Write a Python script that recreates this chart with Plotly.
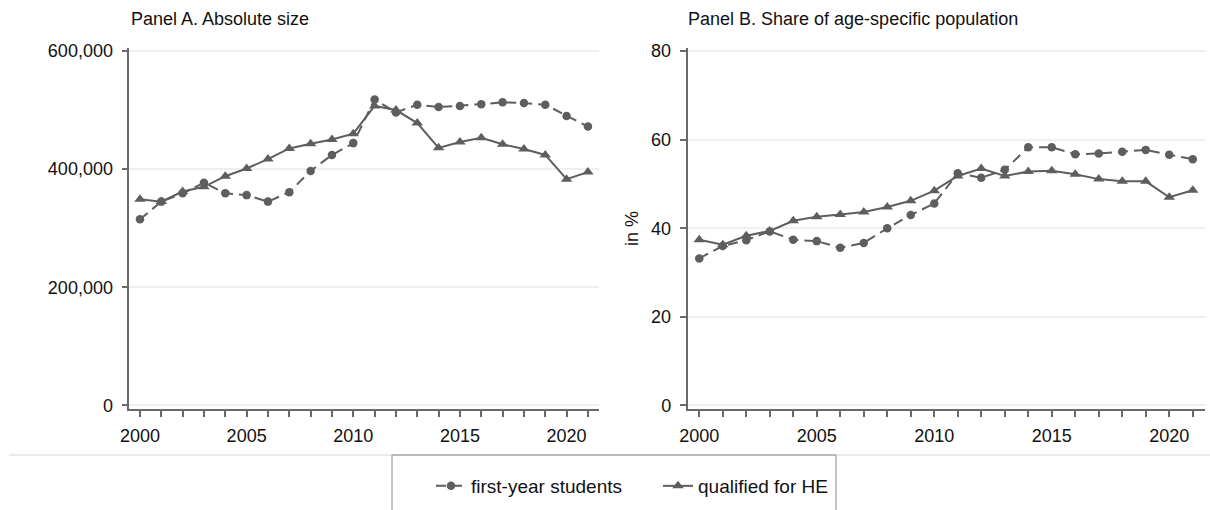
import plotly.graph_objects as go

years = list(range(2000, 2022))

# Panel A: absolute numbers
first_year_abs = [315000, 345000, 359000, 377000, 359000, 356000, 345000, 361000, 397000, 424000, 444000,
                  518000, 496000, 509000, 505000, 507000, 510000, 513000, 512000, 509000, 490000, 472000]
qualified_abs = [349000, 345000, 362000, 370000, 388000, 401000, 417000, 435000, 443000, 450000, 460000,
                 507000, 500000, 478000, 436000, 446000, 453000, 442000, 434000, 424000, 383000, 395000]

# Panel B: share of age-specific population (%)
first_year_pct = [33.2, 36.0, 37.3, 39.3, 37.4, 37.1, 35.6, 36.7, 40.0, 43.0, 45.6,
                  52.4, 51.4, 53.2, 58.3, 58.3, 56.7, 56.9, 57.3, 57.7, 56.6, 55.6]
qualified_pct = [37.4, 36.3, 38.3, 39.4, 41.7, 42.6, 43.1, 43.7, 44.8, 46.2, 48.5,
                 51.8, 53.5, 51.8, 52.8, 53.0, 52.2, 51.1, 50.6, 50.6, 47.0, 48.6]

series_names = ["first-year students", "qualified for HE"]
panel_titles = ["Panel A. Absolute size", "Panel B. Share of age-specific population"]
y_title_b = "in %"
yticks_a = [0, 200000, 400000, 600000]
yticks_b = [0, 20, 40, 60, 80]

LINE = "#5e5e5e"
AXIS = "#6a6a6a"
GRID = "#efefef"
TXT = "#111111"
FONT = "Liberation Sans, Arial, sans-serif"
FS = 18

fig = go.Figure()

def add_pair(fy, qu, xa, ya, show):
    fig.add_trace(go.Scatter(
        x=years, y=fy, mode="lines+markers", name=series_names[0],
        line=dict(color=LINE, width=2, dash="10px,6px"),
        marker=dict(symbol="circle", size=8.5, color=LINE),
        xaxis=xa, yaxis=ya, showlegend=show, legendrank=1))
    fig.add_trace(go.Scatter(
        x=years, y=qu, mode="lines+markers", name=series_names[1],
        line=dict(color=LINE, width=2),
        marker=dict(symbol="triangle-up", size=10, color=LINE),
        xaxis=xa, yaxis=ya, showlegend=show, legendrank=2))

add_pair(first_year_abs, qualified_abs, "x", "y", True)
add_pair(first_year_pct, qualified_pct, "x2", "y2", False)

H = 510.0
W = 1210.0
ydom = [(H - 409) / H, (H - 48) / H]

xcommon = dict(
    range=[1999.5, 2021.5], tickmode="linear", tick0=2000, dtick=5,
    ticks="outside", ticklen=6, tickwidth=1.5, tickcolor=AXIS,
    showline=True, linecolor=AXIS, linewidth=1.5, showgrid=False, zeroline=False,
    tickfont=dict(family=FONT, size=FS, color=TXT),
    minor=dict(dtick=1, tick0=2000, ticks="outside", ticklen=6, tickwidth=1.5, tickcolor=AXIS, showgrid=False),
    automargin=False, ticklabelstandoff=4,
)
ycommon = dict(
    ticks="outside", ticklen=6, tickwidth=1.5, tickcolor=AXIS,
    showline=True, linecolor=AXIS, linewidth=1.5,
    showgrid=True, gridcolor=GRID, gridwidth=1.5, zeroline=False,
    tickfont=dict(family=FONT, size=FS, color=TXT),
    automargin=False, ticklabelstandoff=5,
)

fig.update_layout(
    width=1210, height=510,
    margin=dict(l=0, r=0, t=0, b=0),
    paper_bgcolor="white", plot_bgcolor="white",
    font=dict(family=FONT, size=FS, color=TXT),
    xaxis=dict(domain=[129.3 / W, 598.6 / W], anchor="y", **xcommon),
    yaxis=dict(domain=ydom, anchor="x", range=[-6000, 605000], tickvals=yticks_a,
               tickformat=",d", **ycommon),
    xaxis2=dict(domain=[687.5 / W, 1204.5 / W], anchor="y2", **xcommon),
    yaxis2=dict(domain=ydom, anchor="x2", range=[-0.8, 80.7], tickvals=yticks_b,
                title=dict(text=y_title_b, font=dict(family=FONT, size=FS, color=TXT), standoff=8),
                **ycommon),
    legend=dict(orientation="h", x=431 / W, xanchor="left", y=(H - 486) / H, yanchor="middle",
                font=dict(family=FONT, size=19, color=TXT), bgcolor="rgba(0,0,0,0)",
                borderwidth=0, traceorder="normal", itemwidth=30, entrywidth=182, entrywidthmode="pixels"),
    showlegend=True,
)

fig.add_annotation(text=panel_titles[0], xref="paper", yref="paper", x=129 / W, y=(H - 19) / H,
                   xanchor="left", yanchor="middle", showarrow=False,
                   font=dict(family=FONT, size=FS, color=TXT))
fig.add_annotation(text=panel_titles[1], xref="paper", yref="paper", x=686 / W, y=(H - 19) / H,
                   xanchor="left", yanchor="middle", showarrow=False,
                   font=dict(family=FONT, size=FS, color=TXT))

# separator line and legend frame
fig.add_shape(type="line", xref="paper", yref="paper", x0=9 / W, x1=1.0, y0=(H - 455) / H, y1=(H - 455) / H,
              line=dict(color="#d6d6d6", width=1))
fig.add_shape(type="rect", xref="paper", yref="paper", x0=392 / W, x1=836 / W, y0=-0.2, y1=(H - 455) / H,
              line=dict(color="#8a8a8a", width=1), fillcolor="rgba(0,0,0,0)")

fig.write_html("out.html", config={"displayModeBar": False},
               post_script="document.body.style.margin='0';document.body.style.overflow='hidden';")
